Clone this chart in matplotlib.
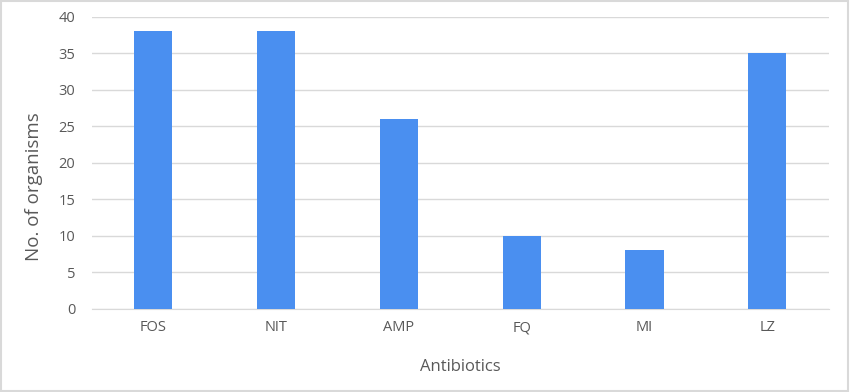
import matplotlib
matplotlib.use("Agg")
import matplotlib.pyplot as plt
from matplotlib.patches import Rectangle

categories = ["FOS", "NIT", "AMP", "FQ", "MI", "LZ"]
values = [38, 38, 26, 10, 8, 35]
yticks = [0, 5, 10, 15, 20, 25, 30, 35, 40]

plt.rcParams['font.family'] = ['Open Sans', 'DejaVu Sans']
fig = plt.figure(figsize=(8.5, 3.92), dpi=100)
ax = fig.add_axes([0.108, 0.212, 0.867, 0.745])

x = list(range(len(categories)))
ax.bar(x, values, width=0.31, color="#4a8ff0", zorder=3)
ax.set_xlim(-0.5, len(categories) - 0.5)
ax.set_ylim(0, 40)
ax.set_yticks(yticks)
ax.set_xticks(x)
ax.set_xticklabels(categories)
ax.grid(axis="y", color="#d9d9d9", linewidth=1, zorder=0)
for s in ["top", "right", "left"]:
    ax.spines[s].set_visible(False)
ax.spines["bottom"].set_color("#d9d9d9")
ax.tick_params(axis="both", length=0, labelsize=10.5, colors="#595959", pad=8)
ax.tick_params(axis="y", pad=12)
ax.set_ylabel("No. of organisms", fontsize=13.5, color="#595959")
ax.yaxis.set_label_coords(-0.066, 0.42)
ax.set_xlabel("Antibiotics", fontsize=12, color="#595959", labelpad=17)

fig.patches.append(Rectangle((0.001, 0.003), 0.997, 0.994, transform=fig.transFigure,
                             fill=False, edgecolor="#d9d9d9", linewidth=1.5))
fig.savefig("out.png", dpi=100)
